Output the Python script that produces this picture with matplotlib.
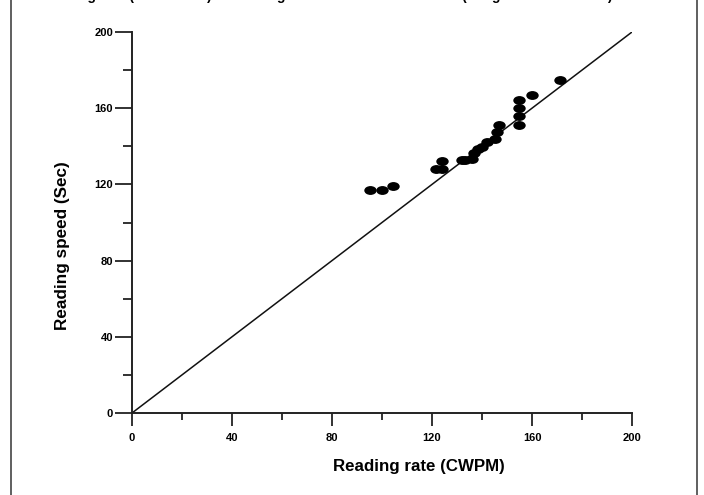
import numpy as np
import matplotlib
matplotlib.use("Agg")
import matplotlib.pyplot as plt
from matplotlib.path import Path
from matplotlib.transforms import Affine2D
from matplotlib.ticker import MultipleLocator, FixedLocator

# ---- data ----
reading_rate = [95.2, 99.9, 104.5, 121.6, 123.9, 124.1, 131.9, 133.2, 135.9,
                136.8, 138.5, 139.9, 141.9, 145.2, 145.9, 146.9, 154.9, 154.9,
                154.9, 154.9, 159.9, 171.2]
reading_speed = [117.1, 117.1, 119.2, 127.9, 127.9, 132.3, 132.8, 132.8, 133.2,
                 136.3, 138.4, 139.8, 142.4, 143.7, 147.7, 151.2, 164.3, 159.9,
                 155.9, 151.2, 166.9, 174.8]
major_ticks = [0, 40, 80, 120, 160, 200]
tick_labels = ["0", "40", "80", "120", "160", "200"]
identity_line = [0, 200]
x_label = "Reading rate (CWPM)"
y_label = "Reading speed (Sec)"
caption = "Reading rate (CWPM rate) vs reading time recorded in seconds (Long and short items)"

plt.rcParams['font.family'] = ['Liberation Sans', 'DejaVu Sans']

W, H = 704, 495
fig = plt.figure(figsize=(W / 100, H / 100), dpi=100)
ax = fig.add_axes([132 / W, (H - 413) / H, 500 / W, 381 / H])

ellipse = Path.unit_circle().transformed(Affine2D().scale(1.4, 1.0))
ax.scatter(reading_rate, reading_speed, marker=ellipse, s=80, color='black',
           linewidths=0, zorder=3)
ax.plot(identity_line, identity_line, color='#111111', lw=1.1, zorder=2)

ax.set_xlim(0, 200)
ax.set_ylim(0, 200)
ax.spines['top'].set_visible(False)
ax.spines['right'].set_visible(False)
for s in ('left', 'bottom'):
    ax.spines[s].set_linewidth(1.4)
    ax.spines[s].set_color('#222222')

ax.xaxis.set_major_locator(FixedLocator(major_ticks))
ax.yaxis.set_major_locator(FixedLocator(major_ticks))
ax.set_xticklabels(tick_labels)
ax.set_yticklabels(tick_labels)
ax.xaxis.set_minor_locator(MultipleLocator(20))
ax.yaxis.set_minor_locator(MultipleLocator(20))
ax.tick_params(axis='x', which='major', direction='out', length=9.4, width=1.3,
               color='#222222', pad=5, labelsize=8)
ax.tick_params(axis='x', which='minor', direction='out', length=5, width=1.3,
               color='#222222')
ax.tick_params(axis='y', which='major', direction='out', length=12.2, width=1.3,
               color='#222222', pad=1.5, labelsize=8)
ax.tick_params(axis='y', which='minor', direction='out', length=6.5, width=1.3,
               color='#222222')
for lbl in ax.get_xticklabels() + ax.get_yticklabels():
    lbl.set_fontweight('bold')

ax.set_xlabel(x_label, fontsize=12.2, fontweight='bold')
ax.set_ylabel(y_label, fontsize=12.3, fontweight='bold')
ax.xaxis.set_label_coords((419 - 132) / 500, (413 - 467) / 381)
ax.xaxis.label.set_va('center')
ax.yaxis.set_label_coords((62 - 132) / 500, (413 - 246) / 381)
ax.yaxis.label.set_va('center')

# cropped caption at the top (only descenders visible in the reference)
fig.text(41 / W, 1.0, caption, fontsize=10, fontweight='bold',
         ha='left', va='baseline')

# page frame lines
fig.add_artist(plt.Line2D([11 / W, 11 / W], [0, 1], color='#444444', lw=1.2,
                          transform=fig.transFigure))
fig.add_artist(plt.Line2D([697 / W, 697 / W], [0, 1], color='#444444', lw=1.2,
                          transform=fig.transFigure))

fig.savefig("out.png", dpi=100)
